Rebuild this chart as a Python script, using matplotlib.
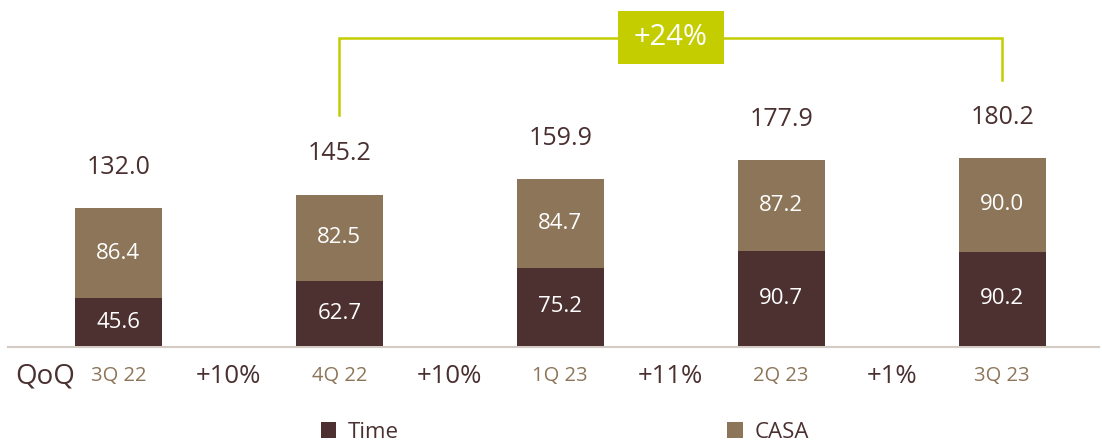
import matplotlib
matplotlib.use("Agg")
import matplotlib.pyplot as plt
from matplotlib.patches import Patch, Rectangle

plt.rcParams['font.family'] = ['Open Sans', 'DejaVu Sans']

quarters = ["3Q 22", "4Q 22", "1Q 23", "2Q 23", "3Q 23"]
time_vals = [45.6, 62.7, 75.2, 90.7, 90.2]
casa_vals = [86.4, 82.5, 84.7, 87.2, 90.0]
totals = [132.0, 145.2, 159.9, 177.9, 180.2]
qoq = ["+10%", "+10%", "+11%", "+1%"]
growth_label = "+24%"

c_time = "#4d3131"
c_casa = "#8c7558"
c_text = "#4a3030"
c_quarter = "#8c7558"
c_green = "#c3cd00"

fig = plt.figure(figsize=(11.02, 4.42), dpi=100)
ax = fig.add_axes([0, 0, 1, 1])
ax.set_xlim(-0.536, 4.452)
ax.set_ylim(-92.0, 331.7)
ax.axis("off")

x = list(range(len(quarters)))
w = 0.394
ax.bar(x, time_vals, width=w, color=c_time, label="Time", zorder=2)
ax.bar(x, casa_vals, width=w, bottom=time_vals, color=c_casa, label="CASA", zorder=2)

ax.plot([-0.5, 4.44], [-0.5, -0.5], color="#d4ccc4", lw=1.5, zorder=1)

for i in x:
    ax.text(i, time_vals[i] / 2, f"{time_vals[i]:.1f}", ha="center", va="center",
            color="white", fontsize=16)
    ax.text(i, time_vals[i] + casa_vals[i] / 2, f"{casa_vals[i]:.1f}", ha="center",
            va="center", color="white", fontsize=16)
    ax.text(i, totals[i] + 39, f"{totals[i]:.1f}", ha="center", va="center",
            color=c_text, fontsize=18)
    ax.text(i, -28.8, quarters[i], ha="center", va="center", color=c_quarter,
            fontsize=14.5)

for i, q in enumerate(qoq):
    ax.text(i + 0.5, -28.8, q, ha="center", va="center", color=c_text, fontsize=18.5)
ax.text(-0.333, -28.8, "QoQ", ha="center", va="center", color=c_text, fontsize=20)

# growth bracket
y_top = 295.3
ax.plot([1, 1, 4, 4], [totals[1] + 76, y_top, y_top, totals[4] + 75],
        color=c_green, lw=1.8, zorder=1, solid_joinstyle="miter")
bw, bh = 106 / 220.9, 53 / 1.043
ax.add_patch(Rectangle((2.5 - bw / 2, y_top - bh / 2 + 0.5), bw, bh,
                       facecolor=c_green, edgecolor="none", zorder=3))
ax.text(2.5, y_top + 0.5, growth_label, ha="center", va="center", color="white",
        fontsize=21, zorder=4)

handles = [Patch(facecolor=c_time, label="Time"), Patch(facecolor=c_casa, label="CASA")]
leg = ax.legend(handles=handles, loc="center", bbox_to_anchor=(0.5125, 0.022),
                ncol=2, frameon=False, fontsize=16, handlelength=0.7,
                handleheight=0.7, handletextpad=0.5, columnspacing=14.8,
                labelcolor=c_text)

fig.savefig("out.png", dpi=100)
